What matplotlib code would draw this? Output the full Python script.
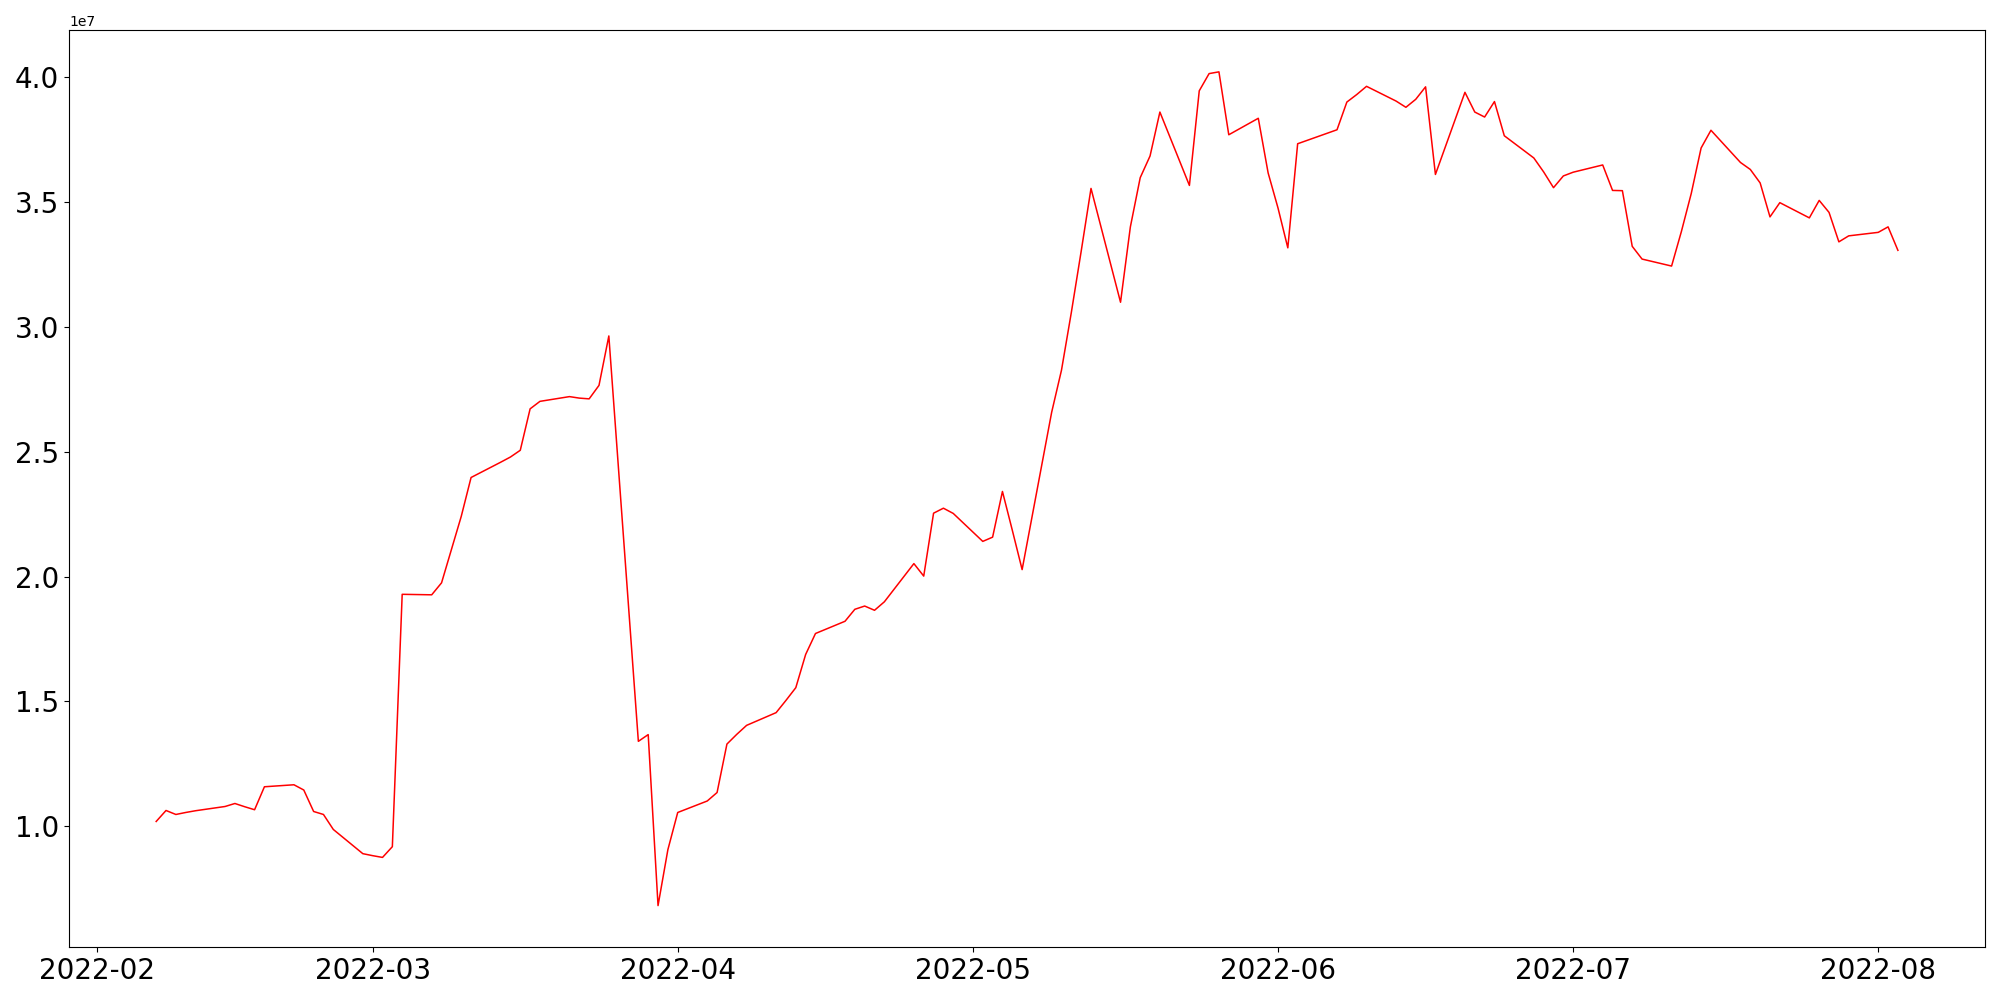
import matplotlib
matplotlib.use("Agg")
import matplotlib.pyplot as plt
import pandas as pd

dates = [
    "2022-02-07", "2022-02-08", "2022-02-09", "2022-02-10", "2022-02-11",
    "2022-02-14", "2022-02-15", "2022-02-16", "2022-02-17", "2022-02-18",
    "2022-02-21", "2022-02-22", "2022-02-23", "2022-02-24", "2022-02-25",
    "2022-02-28", "2022-03-01", "2022-03-02", "2022-03-03", "2022-03-04",
    "2022-03-07", "2022-03-08", "2022-03-09", "2022-03-10", "2022-03-11",
    "2022-03-14", "2022-03-15", "2022-03-16", "2022-03-17", "2022-03-18",
    "2022-03-21", "2022-03-22", "2022-03-23", "2022-03-24", "2022-03-25",
    "2022-03-28", "2022-03-29", "2022-03-30", "2022-03-31", "2022-04-01",
    "2022-04-04", "2022-04-05", "2022-04-06", "2022-04-07", "2022-04-08",
    "2022-04-11", "2022-04-12", "2022-04-13", "2022-04-14", "2022-04-15",
    "2022-04-18", "2022-04-19", "2022-04-20", "2022-04-21", "2022-04-22",
    "2022-04-25", "2022-04-26", "2022-04-27", "2022-04-28", "2022-04-29",
    "2022-05-02", "2022-05-03", "2022-05-04", "2022-05-05", "2022-05-06",
    "2022-05-09", "2022-05-10", "2022-05-11", "2022-05-12", "2022-05-13",
    "2022-05-16", "2022-05-17", "2022-05-18", "2022-05-19", "2022-05-20",
    "2022-05-23", "2022-05-24", "2022-05-25", "2022-05-26", "2022-05-27",
    "2022-05-30", "2022-05-31", "2022-06-01", "2022-06-02", "2022-06-03",
    "2022-06-06", "2022-06-07", "2022-06-08", "2022-06-09", "2022-06-10",
    "2022-06-13", "2022-06-14", "2022-06-15", "2022-06-16", "2022-06-17",
    "2022-06-20", "2022-06-21", "2022-06-22", "2022-06-23", "2022-06-24",
    "2022-06-27", "2022-06-28", "2022-06-29", "2022-06-30", "2022-07-01",
    "2022-07-04", "2022-07-05", "2022-07-06", "2022-07-07", "2022-07-08",
    "2022-07-11", "2022-07-12", "2022-07-13", "2022-07-14", "2022-07-15",
    "2022-07-18", "2022-07-19", "2022-07-20", "2022-07-21", "2022-07-22",
    "2022-07-25", "2022-07-26", "2022-07-27", "2022-07-28", "2022-07-29",
    "2022-08-01", "2022-08-02", "2022-08-03",
]

values_e7 = [
    1.019, 1.063, 1.047, 1.055, 1.062,
    1.079, 1.091, 1.078, 1.066, 1.158,
    1.166, 1.145, 1.059, 1.047, 0.987,
    0.890, 0.882, 0.875, 0.918, 1.929,
    1.927, 1.975, 2.108, 2.241, 2.397,
    2.458, 2.479, 2.506, 2.672, 2.702,
    2.721, 2.715, 2.712, 2.766, 2.964,
    1.340, 1.367, 0.682, 0.906, 1.055,
    1.101, 1.135, 1.329, 1.368, 1.404,
    1.455, 1.504, 1.555, 1.688, 1.772,
    1.821, 1.869, 1.882, 1.865, 1.899,
    2.052, 2.002, 2.254, 2.274, 2.253,
    2.141, 2.158, 2.341, 2.186, 2.028,
    2.658, 2.827, 3.058, 3.303, 3.555,
    3.099, 3.401, 3.598, 3.685, 3.861,
    3.567, 3.946, 4.015, 4.022, 3.770,
    3.836, 3.617, 3.477, 3.317, 3.734,
    3.776, 3.790, 3.901, 3.931, 3.964,
    3.905, 3.880, 3.912, 3.962, 3.611,
    3.940, 3.861, 3.841, 3.903, 3.766,
    3.677, 3.621, 3.558, 3.605, 3.620,
    3.649, 3.547, 3.546, 3.323, 3.272,
    3.244, 3.383, 3.535, 3.717, 3.788,
    3.659, 3.631, 3.577, 3.441, 3.498,
    3.437, 3.507, 3.459, 3.341, 3.365,
    3.379, 3.401, 3.307,
]

x = pd.to_datetime(dates)
y = [v * 1e7 for v in values_e7]

fig, ax = plt.subplots(figsize=(20, 10), dpi=100)
ax.plot(x, y, color="red", linewidth=1.1)
ax.tick_params(axis="both", labelsize=20)
fig.tight_layout()
fig.savefig("out.png", dpi=100)
